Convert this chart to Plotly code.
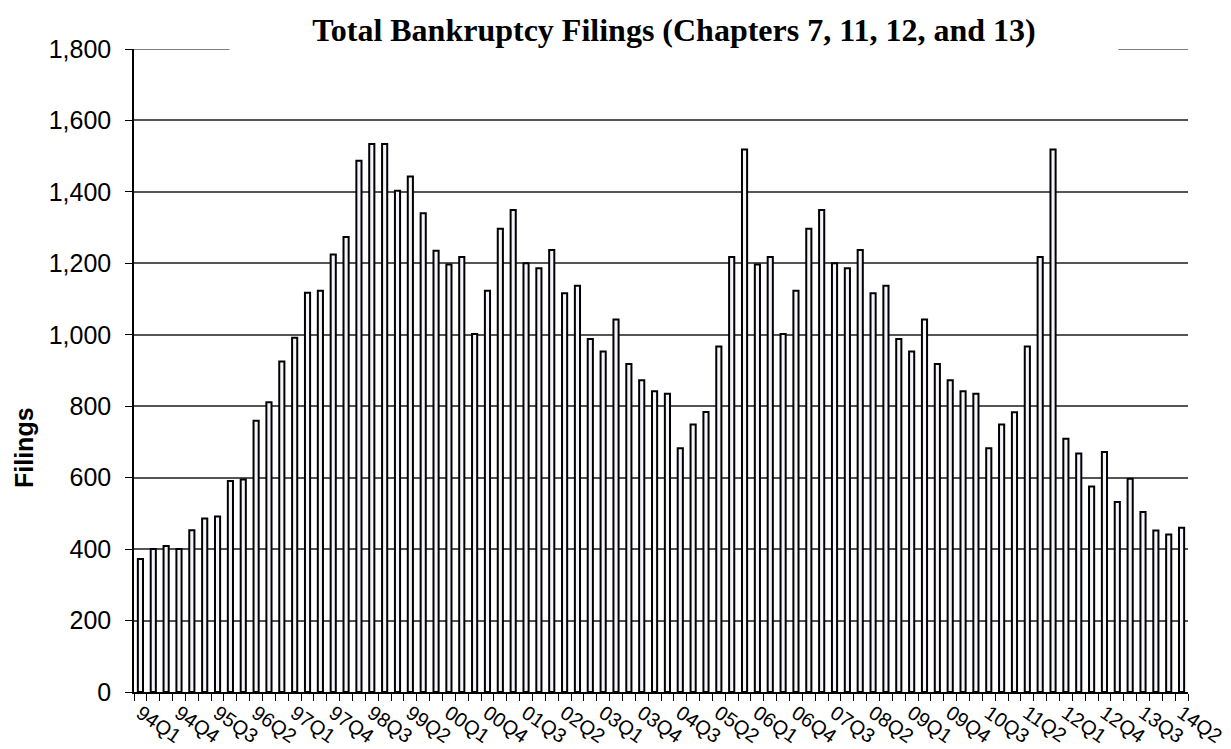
import plotly.graph_objects as go

quarters = [
    "94Q1","94Q2","94Q3","94Q4","95Q1","95Q2","95Q3","95Q4",
    "96Q1","96Q2","96Q3","96Q4","97Q1","97Q2","97Q3","97Q4",
    "98Q1","98Q2","98Q3","98Q4","99Q1","99Q2","99Q3","99Q4",
    "00Q1","00Q2","00Q3","00Q4","01Q1","01Q2","01Q3","01Q4",
    "02Q1","02Q2","02Q3","02Q4","03Q1","03Q2","03Q3","03Q4",
    "04Q1","04Q2","04Q3","04Q4","05Q1","05Q2","05Q3","05Q4",
    "06Q1","06Q2","06Q3","06Q4","07Q1","07Q2","07Q3","07Q4",
    "08Q1","08Q2","08Q3","08Q4","09Q1","09Q2","09Q3","09Q4",
    "10Q1","10Q2","10Q3","10Q4","11Q1","11Q2","11Q3","11Q4",
    "12Q1","12Q2","12Q3","12Q4","13Q1","13Q2","13Q3","13Q4",
    "14Q1","14Q2",
]

filings = [
    372, 400, 409, 400, 453, 486, 491, 591,
    595, 759, 811, 925, 992, 1118, 1123, 1225,
    1274, 1487, 1534, 1534, 1403, 1443, 1340, 1235,
    1197, 1218, 1002, 1123, 1297, 1349, 1200, 1186,
    1237, 1116, 1137, 988, 953, 1043, 918, 873,
    842, 835, 682, 749, 784, 967, 1218, 1519,
    1197, 1218, 1002, 1123, 1297, 1349, 1200, 1186,
    1237, 1116, 1137, 988, 953, 1043, 918, 873,
    842, 835, 682, 749, 783, 967, 1218, 1519,
    709, 668, 575, 672, 532, 597, 504, 452,
    441, 460,
]

labeled_ticks = quarters[::3]
tick_text = [q if q in labeled_ticks else "" for q in quarters]
y_ticks = [0, 200, 400, 600, 800, 1000, 1200, 1400, 1600, 1800]

title_text = "Total Bankruptcy Filings (Chapters 7, 11, 12, and 13)"
y_title = "Filings"

W, H = 1231, 749
ML, MT = 134, 49
MR = W - 1188
MB = H - 692
PW, PH = W - ML - MR, H - MT - MB

fig = go.Figure()
fig.add_trace(go.Bar(
    x=quarters,
    y=filings,
    marker=dict(
        color="#f4f4fb",
        line=dict(color="black", width=2),
    ),
    showlegend=False,
))

fig.update_layout(
    width=W, height=H,
    margin=dict(l=ML, r=MR, t=MT, b=MB),
    paper_bgcolor="white",
    plot_bgcolor="white",
    bargap=0.6,
    font=dict(family="Liberation Sans, Arial, sans-serif", color="black"),
    xaxis=dict(
        type="category",
        tickmode="array",
        tickvals=quarters,
        ticktext=tick_text,
        tickangle=35,
        tickson="boundaries",
        ticks="outside",
        ticklen=7,
        tickcolor="black",
        tickfont=dict(size=20, family="Liberation Sans, Arial, sans-serif"),
        showline=True,
        linecolor="black",
        linewidth=1.5,
        showgrid=False,
        zeroline=False,
        automargin=False,
    ),
    yaxis=dict(
        range=[0, 1800],
        tickmode="array",
        tickvals=y_ticks,
        ticktext=[f"{v:,}" for v in y_ticks],
        ticks="outside",
        ticklen=7,
        tickcolor="black",
        tickfont=dict(size=25, family="Liberation Sans, Arial, sans-serif"),
        ticklabelstandoff=9,
        showline=True,
        linecolor="black",
        linewidth=1.5,
        showgrid=True,
        gridcolor="#555555",
        gridwidth=1.5,
        zeroline=False,
        automargin=False,
    ),
)

# top gridline (at the range edge) drawn explicitly; the title box masks its middle
fig.add_shape(
    type="line", xref="paper", yref="y",
    x0=0, x1=1, y0=y_ticks[-1], y1=y_ticks[-1],
    line=dict(color="#555555", width=1.5), layer="below",
)

fig.add_annotation(
    text="<b>" + y_title + "</b>",
    xref="paper", yref="paper",
    x=-(ML - 24) / PW, y=(692 - 448) / PH,
    xanchor="center", yanchor="middle",
    textangle=-90, showarrow=False,
    font=dict(size=25, family="Liberation Sans, Arial, sans-serif", color="black"),
)

fig.add_annotation(
    text="<b>" + title_text + "</b>",
    xref="paper", yref="paper",
    x=(674 - ML) / PW, y=1 + (MT - 30) / PH,
    xanchor="center", yanchor="middle",
    width=888, height=44, bgcolor="white", borderpad=0,
    showarrow=False,
    font=dict(size=32, family="Liberation Serif, Times New Roman, serif", color="black"),
)

fig.write_html(
    "out.html",
    config={"displayModeBar": False},
    post_script="document.body.style.margin='0';document.body.style.overflow='hidden';",
)
